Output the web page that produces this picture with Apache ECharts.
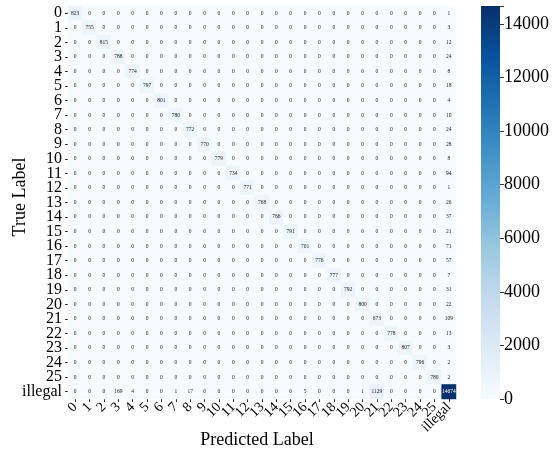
<!DOCTYPE html>
<html>
<head>
<meta charset="utf-8">
<script src="https://cdn.jsdelivr.net/npm/echarts@6/dist/echarts.min.js"></script>
<style>
html,body{margin:0;padding:0;background:#fff;}
#chart{width:557px;height:452px;}
</style>
</head>
<body>
<div id="chart"></div>
<script>
// Class labels (rows = true label, columns = predicted label)
const classLabels = ['0','1','2','3','4','5','6','7','8','9','10','11','12','13','14','15','16','17','18','19','20','21','22','23','24','25','illegal'];
// Correct predictions for classes 0..25
const diagonalValues = [823,755,815,788,774,797,801,780,772,770,779,734,771,768,766,791,701,776,777,792,800,673,778,807,796,780];
// Classes 0..25 predicted as "illegal"
const predictedIllegal = [1,3,12,24,8,18,4,10,24,28,8,94,1,26,37,21,71,57,7,31,22,109,13,3,2,2];
// True "illegal" row, predicted 0..illegal
const illegalRow = [0,0,0,169,4,0,0,1,17,0,0,0,0,0,0,0,5,0,0,0,1,1129,0,0,0,0,14674];
// Colorbar ticks
const colorbarTicks = [0,2000,4000,6000,8000,10000,12000,14000];
const blues = ['#f7fbff','#deebf7','#c6dbef','#9ecae1','#6baed6','#4292c6','#2171b5','#08519c','#08306b'];

const n = classLabels.length;
const vmax = Math.max(...illegalRow, ...diagonalValues);
const data = [];
for (let r = 0; r < n; r++) {
  for (let c = 0; c < n; c++) {
    let v = 0;
    if (r === n - 1) v = illegalRow[c];
    else if (c === r) v = diagonalValues[r];
    else if (c === n - 1) v = predictedIllegal[r];
    data.push([c, r, v]);
  }
}

const serif = '"Liberation Serif","Times New Roman",serif';
const chart = echarts.init(document.getElementById('chart'));
const gridTop = 6, gridH = 393;
chart.setOption({
  animation: false,
  backgroundColor: '#fff',
  grid: [
    {left: 68, top: gridTop, width: 388, height: gridH},
    {left: 481, top: gridTop, width: 19, height: gridH}
  ],
  xAxis: [
    {
      type: 'category', data: classLabels, gridIndex: 0, position: 'bottom',
      axisLine: {show: false},
      axisTick: {show: true, alignWithLabel: true, length: 3, lineStyle: {color: '#333'}},
      axisLabel: {rotate: 45, fontFamily: serif, fontSize: 14, color: '#000', margin: 6, interval: 0},
      splitArea: {show: false}
    },
    {type: 'category', data: ['c'], gridIndex: 1, show: false}
  ],
  yAxis: [
    {
      type: 'category', data: classLabels, gridIndex: 0, inverse: true,
      axisLine: {show: false},
      axisTick: {show: true, alignWithLabel: true, length: 3, lineStyle: {color: '#333'}},
      axisLabel: {fontFamily: serif, fontSize: 16, color: '#000', margin: 6, interval: 0}
    },
    {
      type: 'value', gridIndex: 1, position: 'right', min: 0, max: vmax,
      interval: 2000,
      axisLine: {show: false},
      splitLine: {show: false},
      axisTick: {show: true, length: 4, lineStyle: {color: '#333'}},
      axisLabel: {fontFamily: serif, fontSize: 18, color: '#000', margin: 4,
        formatter: v => colorbarTicks.indexOf(v) >= 0 ? String(v) : ''}
    }
  ],
  visualMap: {
    show: false, min: 0, max: vmax, seriesIndex: 0, dimension: 2,
    inRange: {color: blues}
  },
  series: [
    {
      type: 'heatmap', xAxisIndex: 0, yAxisIndex: 0, data: data,
      itemStyle: {borderWidth: 0},
      label: {
        show: true, fontFamily: serif, fontSize: 5.5,
        formatter: p => String(p.value[2]),
        color: '#222'
      },
      labelLayout: p => null
    },
    {
      type: 'bar', xAxisIndex: 1, yAxisIndex: 1, data: [vmax], barWidth: '100%',
      silent: true,
      itemStyle: {
        color: new echarts.graphic.LinearGradient(0, 1, 0, 0,
          blues.map((c, i) => ({offset: i / (blues.length - 1), color: c})))
      }
    }
  ],
  graphic: [
    {type: 'text', x: 20, y: 197, rotation: Math.PI / 2,
     style: {text: 'True Label', font: '18px ' + serif, fill: '#000', textAlign: 'center', textVerticalAlign: 'middle'}},
    {type: 'text', x: 257, y: 440,
     style: {text: 'Predicted Label', font: '18px ' + serif, fill: '#000', textAlign: 'center', textVerticalAlign: 'middle'}}
  ]
});
// white text on the darkest cell
const opt = chart.getOption();
const d2 = data.map(d => d[2] > vmax * 0.6 ? {value: d, label: {color: '#fff'}} : d);
chart.setOption({series: [{data: d2}]});
</script>
</body>
</html>
